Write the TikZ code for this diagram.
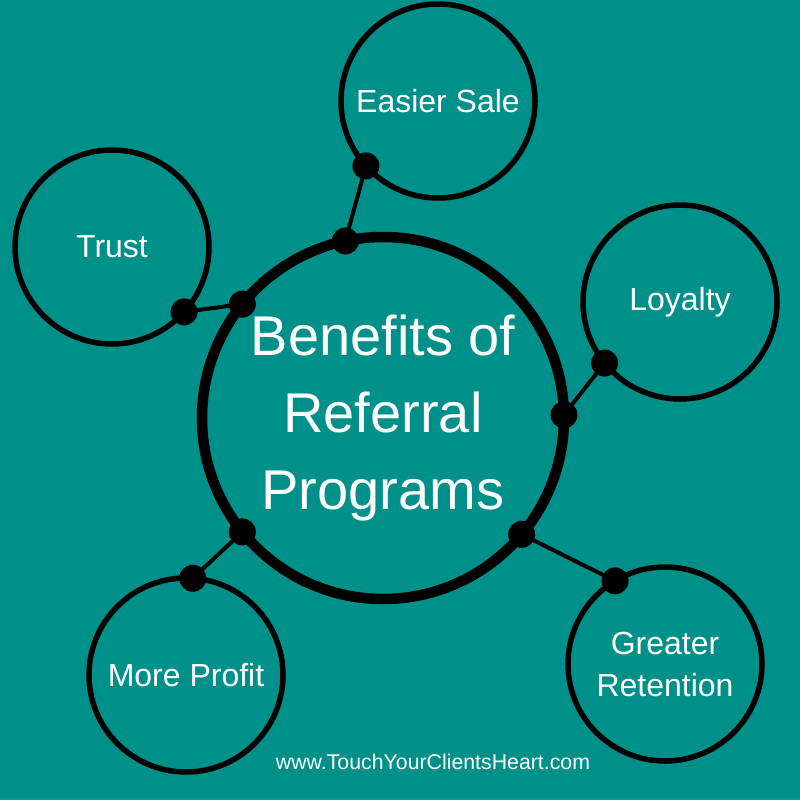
\documentclass[tikz,border=0pt]{standalone}
\usepackage{fontspec}
\setmainfont{Liberation Sans}
\usetikzlibrary{positioning}
\definecolor{teal}{RGB}{0,144,138}

\begin{document}
\begin{tikzpicture}[x=1pt,y=-1pt,
    bubble/.style={circle,draw=black,line width=5.5pt,minimum size=194pt,
      inner sep=0pt,outer sep=0pt,text=white,align=center,
      font=\fontsize{32}{42}\selectfont},
    hub/.style={circle,draw=black,line width=10.5pt,minimum size=362pt,
      inner sep=0pt,outer sep=0pt,text=white,align=center,
      font=\fontsize{56}{77}\selectfont},
    link/.style={line width=4pt},
    knob/.style={fill=black}]
    \fill[teal] (0,0) rectangle (800,800);
    \fill[teal!94!white] (0,798) rectangle (800,800);

    % centre and the five benefits
    \node[hub] (hub) at (383,418) {Benefits of\\Referral\\Programs};
    \node[bubble] (sale) at (438,101) {Easier Sale};
    \node[bubble] (trust) at (112,247) {Trust};
    \node[bubble] (loyal) at (680,302) {Loyalty};
    \node[bubble] (profit) at (186,675) {More Profit};
    \node[bubble] (retain) at (665,664) {Greater\\Retention};

    % connectors with a knob at each end
    \foreach \a/\i/\b/\j in {sale/222/hub/102, trust/318/hub/141,
        loyal/219/hub/1, profit/86/hub/219, retain/121/hub/320}{
      \draw[link] (\a.\i) -- (\b.\j);
      \fill[knob] (\a.\i) circle (13.5pt);
      \fill[knob] (\b.\j) circle (13.5pt);
    }

    \node[text=white,font=\fontsize{21.3}{24}\selectfont] (web) at (433,762)
      {www.TouchYourClientsHeart.com};
\end{tikzpicture}
\end{document}
